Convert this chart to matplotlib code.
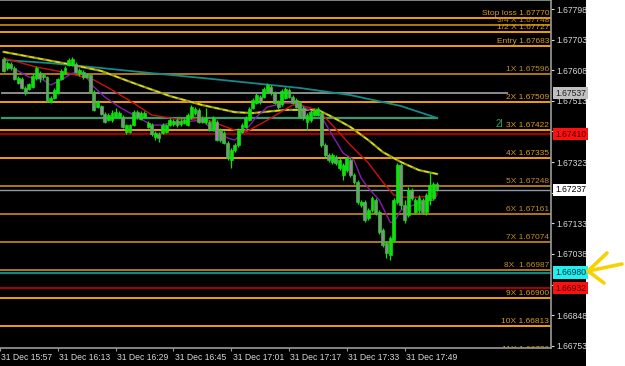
import matplotlib
matplotlib.use("Agg")
import matplotlib.pyplot as plt
import matplotlib.transforms as mtransforms
from matplotlib.patches import Rectangle
from matplotlib.lines import Line2D

plt.rcParams['font.family'] = ['Liberation Sans', 'DejaVu Sans']

# ---------------- data ----------------
bar_index = list(range(1, 122))

opens = [1.67643, 1.67615, 1.67627, 1.67615, 1.67568, 1.67581, 1.67553, 1.67550, 1.67556, 1.67584,
         1.67599, 1.67593, 1.67587, 1.67509, 1.67522, 1.67537, 1.67581, 1.67599, 1.67624, 1.67624,
         1.67627, 1.67599, 1.67603, 1.67596, 1.67593, 1.67540, 1.67494, 1.67497, 1.67472, 1.67453,
         1.67453, 1.67463, 1.67463, 1.67463, 1.67416, 1.67416, 1.67438, 1.67478, 1.67457, 1.67463,
         1.67432, 1.67438, 1.67401, 1.67410, 1.67413, 1.67416, 1.67438, 1.67441, 1.67453, 1.67441,
         1.67444, 1.67438, 1.67463, 1.67475, 1.67485, 1.67460, 1.67447, 1.67447, 1.67422, 1.67447,
         1.67422, 1.67413, 1.67382, 1.67329, 1.67360, 1.67376, 1.67416, 1.67432, 1.67453, 1.67491,
         1.67506, 1.67525, 1.67525, 1.67540, 1.67556, 1.67537, 1.67509, 1.67503, 1.67522, 1.67547,
         1.67525, 1.67516, 1.67506, 1.67491, 1.67447, 1.67453, 1.67469, 1.67469, 1.67475, 1.67376,
         1.67345, 1.67323, 1.67339, 1.67305, 1.67283, 1.67298, 1.67329, 1.67283, 1.67261, 1.67190,
         1.67199, 1.67149, 1.67174, 1.67205, 1.67168, 1.67112, 1.67072, 1.67035, 1.67081, 1.67199,
         1.67314, 1.67190, 1.67159, 1.67236, 1.67168, 1.67174, 1.67205, 1.67168, 1.67205, 1.67211,
         1.67255]

highs = [1.67649, 1.67637, 1.67634, 1.67621, 1.67590, 1.67587, 1.67559, 1.67568, 1.67596, 1.67621,
         1.67606, 1.67599, 1.67590, 1.67528, 1.67553, 1.67584, 1.67612, 1.67621, 1.67646, 1.67649,
         1.67634, 1.67615, 1.67609, 1.67599, 1.67596, 1.67547, 1.67516, 1.67500, 1.67478, 1.67475,
         1.67485, 1.67491, 1.67481, 1.67469, 1.67441, 1.67441, 1.67485, 1.67485, 1.67481, 1.67481,
         1.67450, 1.67444, 1.67419, 1.67416, 1.67444, 1.67441, 1.67460, 1.67457, 1.67460, 1.67457,
         1.67460, 1.67475, 1.67500, 1.67494, 1.67491, 1.67466, 1.67491, 1.67453, 1.67466, 1.67453,
         1.67429, 1.67419, 1.67388, 1.67367, 1.67382, 1.67429, 1.67444, 1.67466, 1.67494, 1.67522,
         1.67537, 1.67531, 1.67556, 1.67568, 1.67562, 1.67544, 1.67516, 1.67550, 1.67556, 1.67553,
         1.67531, 1.67522, 1.67512, 1.67497, 1.67475, 1.67485, 1.67491, 1.67494, 1.67481, 1.67382,
         1.67351, 1.67351, 1.67345, 1.67336, 1.67320, 1.67342, 1.67336, 1.67289, 1.67267, 1.67205,
         1.67205, 1.67180, 1.67218, 1.67211, 1.67174, 1.67118, 1.67078, 1.67094, 1.67211, 1.67320,
         1.67320, 1.67205, 1.67246, 1.67242, 1.67211, 1.67221, 1.67211, 1.67227, 1.67292, 1.67261,
         1.67261]

lows = [1.67603, 1.67609, 1.67609, 1.67578, 1.67565, 1.67550, 1.67531, 1.67547, 1.67553, 1.67578,
        1.67571, 1.67581, 1.67509, 1.67506, 1.67519, 1.67534, 1.67578, 1.67596, 1.67621, 1.67621,
        1.67599, 1.67590, 1.67581, 1.67584, 1.67537, 1.67481, 1.67491, 1.67469, 1.67444, 1.67450,
        1.67447, 1.67460, 1.67460, 1.67429, 1.67410, 1.67413, 1.67435, 1.67457, 1.67453, 1.67460,
        1.67429, 1.67404, 1.67391, 1.67385, 1.67410, 1.67413, 1.67435, 1.67435, 1.67432, 1.67435,
        1.67441, 1.67435, 1.67457, 1.67469, 1.67444, 1.67444, 1.67441, 1.67419, 1.67419, 1.67388,
        1.67385, 1.67379, 1.67329, 1.67305, 1.67354, 1.67370, 1.67413, 1.67429, 1.67450, 1.67488,
        1.67503, 1.67503, 1.67522, 1.67537, 1.67531, 1.67503, 1.67488, 1.67497, 1.67519, 1.67522,
        1.67503, 1.67491, 1.67460, 1.67453, 1.67422, 1.67447, 1.67466, 1.67466, 1.67370, 1.67339,
        1.67323, 1.67317, 1.67314, 1.67298, 1.67267, 1.67292, 1.67277, 1.67255, 1.67193, 1.67184,
        1.67137, 1.67143, 1.67168, 1.67159, 1.67100, 1.67059, 1.67025, 1.67019, 1.67075, 1.67193,
        1.67177, 1.67134, 1.67152, 1.67205, 1.67162, 1.67165, 1.67162, 1.67159, 1.67190, 1.67205,
        1.67233]

closes = [1.67606, 1.67630, 1.67615, 1.67581, 1.67584, 1.67553, 1.67537, 1.67565, 1.67590, 1.67615,
          1.67584, 1.67587, 1.67512, 1.67522, 1.67547, 1.67581, 1.67606, 1.67615, 1.67640, 1.67643,
          1.67603, 1.67609, 1.67587, 1.67587, 1.67540, 1.67485, 1.67509, 1.67472, 1.67447, 1.67469,
          1.67475, 1.67478, 1.67475, 1.67432, 1.67438, 1.67438, 1.67478, 1.67463, 1.67475, 1.67475,
          1.67444, 1.67410, 1.67413, 1.67398, 1.67438, 1.67438, 1.67453, 1.67450, 1.67438, 1.67450,
          1.67453, 1.67469, 1.67494, 1.67488, 1.67447, 1.67447, 1.67460, 1.67422, 1.67460, 1.67391,
          1.67391, 1.67382, 1.67336, 1.67360, 1.67376, 1.67422, 1.67438, 1.67460, 1.67488, 1.67516,
          1.67531, 1.67509, 1.67550, 1.67562, 1.67537, 1.67506, 1.67494, 1.67544, 1.67550, 1.67525,
          1.67506, 1.67494, 1.67463, 1.67460, 1.67469, 1.67478, 1.67485, 1.67488, 1.67376, 1.67345,
          1.67329, 1.67345, 1.67320, 1.67329, 1.67314, 1.67336, 1.67283, 1.67261, 1.67199, 1.67199,
          1.67143, 1.67174, 1.67211, 1.67165, 1.67106, 1.67066, 1.67041, 1.67087, 1.67205, 1.67314,
          1.67190, 1.67143, 1.67236, 1.67211, 1.67205, 1.67211, 1.67168, 1.67221, 1.67252, 1.67255,
          1.67237]

# bearish bars drawn with a magenta body (the other bearish bars are grey)
magenta_bars = [6, 11, 21, 28, 38, 49, 60, 72, 75, 84, 97, 114]

# moving averages (bar index, price)
teal_bars = [1, 14, 28, 42, 56, 70, 83, 97, 111, 121]
teal_ma = [1.67640, 1.67630, 1.67615, 1.67599, 1.67584, 1.67568, 1.67553, 1.67531, 1.67497, 1.67460]

yellow_bars = [1, 10, 19, 28, 37, 47, 56, 65, 70, 79, 88, 92, 97, 102, 106, 111, 116, 121]
yellow_ma = [1.67665, 1.67646, 1.67627, 1.67606, 1.67568, 1.67528, 1.67500, 1.67478, 1.67475,
             1.67485, 1.67485, 1.67463, 1.67432, 1.67391, 1.67354, 1.67323, 1.67298, 1.67286]

red_bars = [1, 10, 19, 26, 31, 37, 42, 47, 51, 56, 59, 65, 68, 74, 81, 83, 88, 92, 97, 102,
            106, 109, 112, 116, 120, 121]
red_ma = [1.67646, 1.67618, 1.67599, 1.67578, 1.67547, 1.67506, 1.67469, 1.67460, 1.67453, 1.67460,
          1.67447, 1.67422, 1.67416, 1.67453, 1.67500, 1.67500, 1.67485, 1.67438, 1.67376, 1.67320,
          1.67261, 1.67221, 1.67214, 1.67214, 1.67218, 1.67227]

purple_bars = [4, 8, 12, 14, 17, 20, 23, 26, 29, 33, 37, 42, 45, 47, 56, 59, 63, 65, 68, 71, 74,
               79, 83, 84, 89, 92, 95, 98, 100, 102, 105, 108, 109, 111, 113, 116, 120, 121]
purple_ma = [1.67612, 1.67587, 1.67578, 1.67562, 1.67578, 1.67599, 1.67599, 1.67556, 1.67525,
             1.67494, 1.67469, 1.67438, 1.67438, 1.67444, 1.67453, 1.67422, 1.67398, 1.67391,
             1.67422, 1.67463, 1.67494, 1.67506, 1.67506, 1.67494, 1.67463, 1.67407, 1.67351,
             1.67329, 1.67273, 1.67242, 1.67205, 1.67137, 1.67134, 1.67174, 1.67183, 1.67196,
             1.67205, 1.67221]

# trade levels
level_names = ["Stop loss", "3/4 X", "1/2 X", "Entry", "1X", "2X", "3X", "4X", "5X",
               "6X", "7X", "8X ", "9X", "10X", "11X"]
level_prices = [1.67770, 1.67748, 1.67727, 1.67683, 1.67596, 1.67509, 1.67422, 1.67335,
                1.67248, 1.67161, 1.67074, 1.66987, 1.66900, 1.66813, 1.66726]
level_bright = [True, False, True, True, False, True, True, True, False,
                False, False, False, True, True, True]

gray_level = 1.67537
green_level = 1.67461
red_level_1 = 1.67410
bid_price = 1.67237
cyan_level = 1.66980
red_level_2 = 1.66932

price_ticks = [1.67798, 1.67703, 1.67608, 1.67513, 1.67418, 1.67323, 1.67228,
               1.67133, 1.67038, 1.66943, 1.66848, 1.66753]
# scale labels that are covered by the coloured price boxes
covered_ticks = [1.67418, 1.67228, 1.66943]

time_ticks = [0, 16, 32, 48, 64, 80, 96, 112]
time_labels = ["31 Dec 15:57", "31 Dec 16:13", "31 Dec 16:29", "31 Dec 16:45",
               "31 Dec 17:01", "31 Dec 17:17", "31 Dec 17:33", "31 Dec 17:49"]

# ---------------- figure ----------------
W, H = 625, 366
fig = plt.figure(figsize=(W / 100, H / 100), dpi=100, facecolor='black')
ax_w, ax_h, ax_b = 551, 348, 18
ax = fig.add_axes([0, ax_b / H, ax_w / W, ax_h / H])
ax.set_facecolor('black')

bar_px = 3.625
x_left = 0.552
ax.set_xlim(x_left, x_left + ax_w / bar_px)
ax.set_ylim(1.66746, 1.67826)

# white strip at the far right
fig.add_artist(Rectangle((586 / W, 0), (W - 586) / W, 1, transform=fig.transFigure,
                         facecolor='white', edgecolor='none', zorder=0))

trans_ay = mtransforms.blended_transform_factory(ax.transAxes, ax.transData)
trans_xa = mtransforms.blended_transform_factory(ax.transData, ax.transAxes)

ORANGE = '#f0a000'
BROWN = '#b07a0a'

# level lines and labels
for name, price, bright in zip(level_names, level_prices, level_bright):
    col = ORANGE if bright else BROWN
    ax.axhline(price, color=col, lw=1.4, zorder=1)
    tcol = '#dc9c1c' if bright else '#c48c22'
    ax.text(549 / ax_w, price, f"{name} {price:.5f}", transform=mtransforms.offset_copy(
        trans_ay, fig=fig, x=0, y=1, units='dots'),
        ha='right', va='bottom', fontsize=6.0, color=tcol, zorder=2, clip_on=True)

# other horizontal lines
ax.plot([x_left, x_left + 507 / bar_px], [gray_level, gray_level], color='#8c8c8c', lw=1.4, zorder=1)
ax.plot([x_left, bar_index[-1]], [green_level, green_level], color='#3a9a6e', lw=1.6, zorder=1)
ax.axhline(red_level_1, color='#a00000', lw=1.6, zorder=1)
ax.axhline(bid_price, color='#8c9aa8', lw=1.0, zorder=1)
ax.axhline(cyan_level, color='#0a8a8a', lw=1.6, zorder=1)
ax.axhline(red_level_2, color='#c80000', lw=1.2, zorder=1)
ax.text(503 / ax_w, 1.67422, "2l", transform=mtransforms.offset_copy(
    trans_ay, fig=fig, x=0, y=1, units='dots'), ha='right', va='bottom',
    fontsize=7, color='#2ea060', zorder=2)

# moving averages
ax.plot(teal_bars, teal_ma, color='#138a8c', lw=1.3, zorder=3)
ax.plot(yellow_bars, yellow_ma, color='#9a9a20', lw=1.6, zorder=3)
ax.plot(yellow_bars, yellow_ma, color='#e6e600', lw=0.9, dashes=(4, 3), zorder=3)
ax.plot(red_bars, red_ma, color='#d01010', lw=1.0, zorder=3)
ax.plot(purple_bars, purple_ma, color='#8a1ab0', lw=1.0, zorder=3)

# candles
LIME = '#10e010'
ax.vlines(bar_index, lows, highs, color=LIME, lw=0.9, zorder=4)
for i, o, c in zip(bar_index, opens, closes):
    bottom = min(o, c)
    height = max(abs(c - o), 0.000015)
    if c >= o:
        fc = LIME
    else:
        fc = '#c070c0' if i in magenta_bars else '#8a8a8a'
    ax.bar(i, height, bottom=bottom, width=0.8, color=fc, edgecolor=LIME,
           linewidth=0.5, zorder=5)

# axes styling
ax.spines['left'].set_visible(False)
for s in ['right', 'bottom', 'top']:
    ax.spines[s].set_color('#9a9a9a')
    ax.spines[s].set_linewidth(1.2)
ax.yaxis.tick_right()
ax.set_yticks(price_ticks)
ax.set_yticklabels(["" if p in covered_ticks else f"{p:.5f}" for p in price_ticks])
ax.tick_params(axis='y', colors='#d8d8d8', labelsize=6.2, length=2.5, width=0.8, pad=1.5)
ax.set_xticks(time_ticks)
ax.set_xticklabels([])
ax.tick_params(axis='x', colors='#9a9a9a', length=2.5, width=0.8)
for t, lab in zip(time_ticks, time_labels):
    ax.text(t + 0.4, -9 / ax_h, lab, transform=trans_xa, ha='left', va='center',
            fontsize=6.2, color='#d8d8d8', clip_on=False)

# coloured price boxes on the scale
boxes = [(gray_level, '#c0c0c0', '#202020'), (red_level_1, '#ff1010', '#400000'),
         (bid_price, '#ffffff', '#000000'), (cyan_level, '#20f0f0', '#003040'),
         (red_level_2, '#ff1010', '#400000')]
for price, bg, fg in boxes:
    ax.text(1 + 4 / ax_w, price, f"{price:.5f}", transform=trans_ay, ha='left', va='center',
            fontsize=6.2, color=fg, clip_on=False, zorder=10,
            bbox=dict(boxstyle='square,pad=0.2', facecolor=bg, edgecolor='none'))

# yellow hand-drawn arrow
tip = (588 / W, 1 - 271 / H)
for end in [(622, 264), (607, 253), (604, 283)]:
    fig.add_artist(Line2D([tip[0], end[0] / W], [tip[1], 1 - end[1] / H],
                          transform=fig.transFigure, color='#f5d200', lw=2.6,
                          solid_capstyle='round', zorder=20))

fig.savefig('out.png', dpi=100, facecolor='black')
